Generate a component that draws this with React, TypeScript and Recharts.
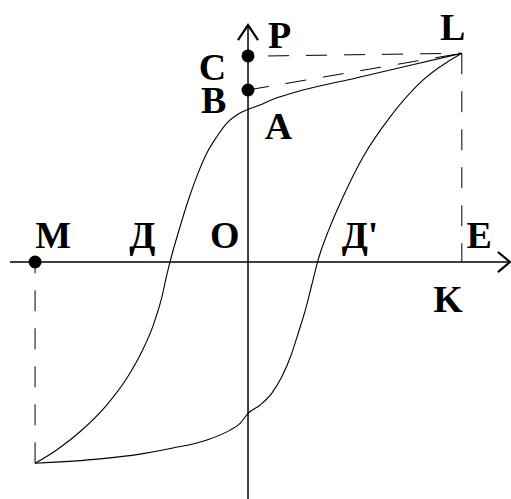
import { ComposedChart, Line, Scatter, XAxis, YAxis } from "recharts"

// Descending branch of the loop (corner -> Д -> A -> L), sorted by x
const upperBranch = [
  { x: -9.96, y: -9.64 },
  { x: -8.95, y: -9.0 },
  { x: -7.86, y: -8.13 },
  { x: -6.61, y: -6.85 },
  { x: -5.67, y: -5.57 },
  { x: -4.97, y: -4.3 },
  { x: -4.43, y: -3.02 },
  { x: -4.04, y: -1.72 },
  { x: -3.8, y: -0.62 },
  { x: -3.65, y: 0 },
  { x: -3.18, y: 1.69 },
  { x: -2.79, y: 2.97 },
  { x: -2.4, y: 4.09 },
  { x: -1.93, y: 5.21 },
  { x: -1.46, y: 6.0 },
  { x: -1.0, y: 6.64 },
  { x: -0.53, y: 7.04 },
  { x: 0, y: 7.31 },
  { x: 0.56, y: 7.52 },
  { x: 1.17, y: 7.8 },
  { x: 1.96, y: 8.06 },
  { x: 5.1, y: 8.83 },
  { x: 7.5, y: 9.4 },
  { x: 10, y: 10 },
]

// Ascending branch (corner -> Д' -> L)
const lowerBranch = [
  { x: -9.96, y: -9.64 },
  { x: -6.92, y: -9.43 },
  { x: -5.05, y: -9.2 },
  { x: -3.51, y: -8.91 },
  { x: -1.92, y: -8.52 },
  { x: -0.84, y: -8.05 },
  { x: -0.37, y: -7.73 },
  { x: 0, y: -7.25 },
  { x: 0.56, y: -6.85 },
  { x: 1.1, y: -6.3 },
  { x: 1.58, y: -5.5 },
  { x: 2.0, y: -4.5 },
  { x: 2.35, y: -3.4 },
  { x: 2.68, y: -2.3 },
  { x: 2.98, y: -1.1 },
  { x: 3.25, y: 0 },
  { x: 3.8, y: 1.6 },
  { x: 4.44, y: 3.11 },
  { x: 5.38, y: 5.03 },
  { x: 6.64, y: 6.94 },
  { x: 8.19, y: 8.72 },
  { x: 10, y: 10 },
]

// dashed construction lines
const dashCL = [{ x: 0.94, y: 9.87 }, { x: 10, y: 10 }]
const dashBL = [{ x: 0, y: 8.24 }, { x: 10, y: 10 }]
const dashLK = [{ x: 10, y: 10 }, { x: 10, y: 0 }]
const dashMCorner = [{ x: -9.96, y: -9.64 }, { x: -9.96, y: 0 }]

// axes and their arrow heads
const axisE = [{ x: -11.13, y: 0 }, { x: 12.25, y: 0 }]
const axisP = [{ x: 0, y: -11.35 }, { x: 0, y: 11.35 }]
const arrowE = [{ x: 11.69, y: 0.48 }, { x: 12.25, y: 0 }, { x: 11.69, y: -0.48 }]
const arrowP = [{ x: -0.47, y: 10.63 }, { x: 0, y: 11.35 }, { x: 0.47, y: 10.63 }]

// points C, B, M
const points = [
  { x: 0, y: 9.87 },
  { x: 0, y: 8.24 },
  { x: -9.96, y: 0 },
]

// label anchors (left edge, baseline)
const labels = [
  { x: 0.94, y: 10.25, text: "P" },
  { x: -2.3, y: 8.72, text: "C" },
  { x: -2.2, y: 7.14, text: "B" },
  { x: 0.78, y: 5.9, text: "A" },
  { x: 8.98, y: 10.63, text: "L" },
  { x: -9.95, y: 0.67, text: "M" },
  { x: -5.55, y: 0.67, text: "Д" },
  { x: -1.78, y: 0.67, text: "O" },
  { x: 4.38, y: 0.67, text: "Д'" },
  { x: 10.22, y: 0.67, text: "E" },
  { x: 8.66, y: -2.39, text: "K" },
]

const dash = "21 17"

const LabelText = (props: any) => (
  <text
    x={props.cx}
    y={props.cy}
    fontFamily="'Liberation Serif', 'Times New Roman', serif"
    fontSize={38}
    fontWeight="bold"
    fill="#000"
  >
    {props.payload.text}
  </text>
)

const Dot = (props: any) => <circle cx={props.cx} cy={props.cy} r={6.5} fill="#000" />

export default function App() {
  return (
    <div style={{ width: 511, height: 499, background: "#fff" }}>
      <style>{"body{margin:0}"}</style>
      <ComposedChart width={511} height={499} margin={{ top: 0, right: 0, bottom: 0, left: 0 }}>
        <XAxis type="number" dataKey="x" domain={[-11.6, 12.3]} allowDataOverflow hide />
        <YAxis type="number" dataKey="y" domain={[-11.35, 12.55]} allowDataOverflow hide />

        <Line data={axisE} dataKey="y" type="linear" stroke="#000" strokeWidth={1.5} dot={false} activeDot={false} isAnimationActive={false} />
        <Line data={axisP} dataKey="y" type="linear" stroke="#000" strokeWidth={1.5} dot={false} activeDot={false} isAnimationActive={false} />
        <Line data={arrowE} dataKey="y" type="linear" stroke="#000" strokeWidth={2.2} dot={false} activeDot={false} isAnimationActive={false} />
        <Line data={arrowP} dataKey="y" type="linear" stroke="#000" strokeWidth={2.2} dot={false} activeDot={false} isAnimationActive={false} />

        <Line data={dashCL} dataKey="y" type="linear" stroke="#000" strokeWidth={1} strokeDasharray={dash} dot={false} activeDot={false} isAnimationActive={false} />
        <Line data={dashBL} dataKey="y" type="linear" stroke="#000" strokeWidth={1} strokeDasharray={dash} dot={false} activeDot={false} isAnimationActive={false} />
        <Line data={dashLK} dataKey="y" type="linear" stroke="#000" strokeWidth={1} strokeDasharray={dash} dot={false} activeDot={false} isAnimationActive={false} />
        <Line data={dashMCorner} dataKey="y" type="linear" stroke="#000" strokeWidth={1} strokeDasharray={dash} dot={false} activeDot={false} isAnimationActive={false} />

        <Line data={upperBranch} dataKey="y" type="monotone" stroke="#000" strokeWidth={1.1} dot={false} activeDot={false} isAnimationActive={false} />
        <Line data={lowerBranch} dataKey="y" type="monotone" stroke="#000" strokeWidth={1.1} dot={false} activeDot={false} isAnimationActive={false} />

        <Scatter data={points} shape={Dot} isAnimationActive={false} />
        <Scatter data={labels} shape={LabelText} isAnimationActive={false} />
      </ComposedChart>
    </div>
  )
}
